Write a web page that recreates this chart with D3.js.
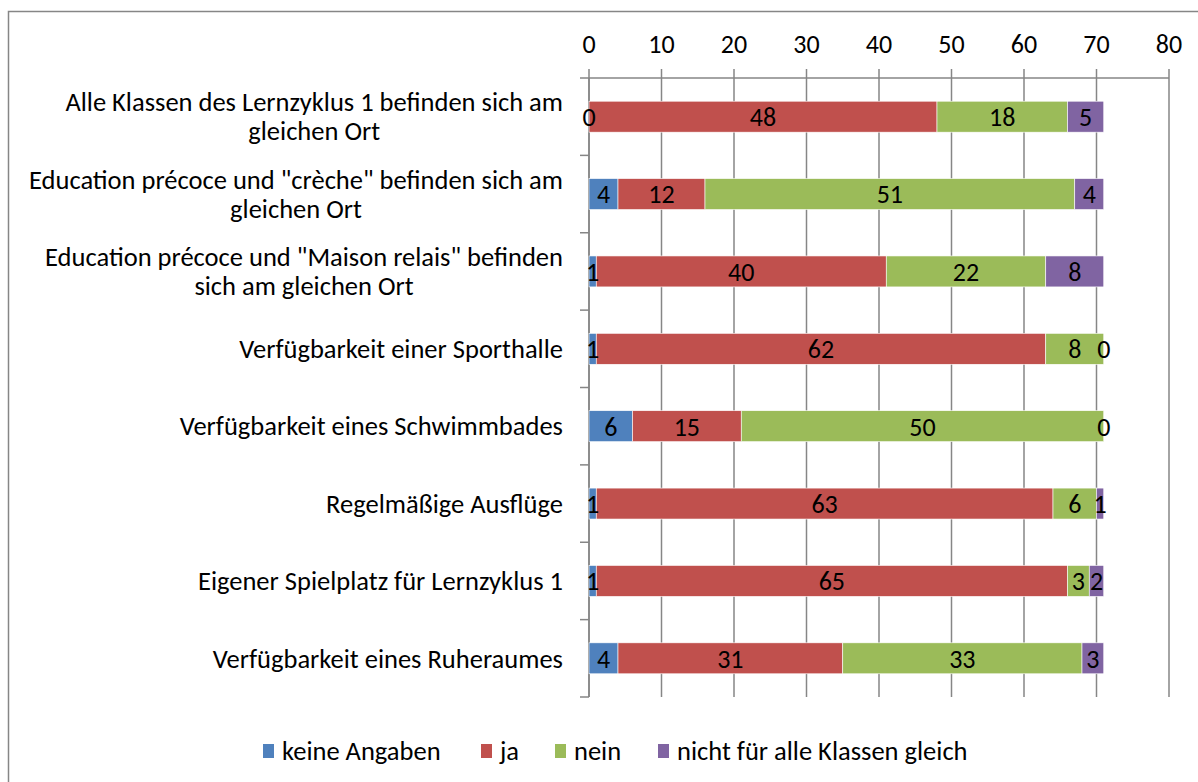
<!DOCTYPE html>
<html><head><meta charset="utf-8">
<script src="https://cdn.jsdelivr.net/npm/d3@7"></script>
<style>
html,body{margin:0;padding:0;background:#fff;}
svg{display:block;font-family:Carlito,Calibri,Lato,"Open Sans",sans-serif;}
</style></head>
<body><svg id="chart" width="1198" height="782"></svg>
<script>
const categories = [
  ["Alle Klassen des Lernzyklus 1 befinden sich am", "gleichen Ort"],
  ["Education précoce und \"crèche\" befinden sich am", "gleichen Ort"],
  ["Education précoce und \"Maison relais\" befinden", "sich am gleichen Ort"],
  ["Verfügbarkeit einer Sporthalle"],
  ["Verfügbarkeit eines Schwimmbades"],
  ["Regelmäßige Ausflüge"],
  ["Eigener Spielplatz für Lernzyklus 1"],
  ["Verfügbarkeit eines Ruheraumes"]
];
const seriesNames = ["keine Angaben", "ja", "nein", "nicht für alle Klassen gleich"];
const keineAngaben = [0, 4, 1, 1, 6, 1, 1, 4];
const ja = [48, 12, 40, 62, 15, 63, 65, 31];
const nein = [18, 51, 22, 8, 50, 6, 3, 33];
const nichtGleich = [5, 4, 8, 0, 0, 1, 2, 3];
const colors = ["#4F81BD", "#C0504D", "#9BBB59", "#8064A2"];
const xTicks = [0, 10, 20, 30, 40, 50, 60, 70, 80];

(function(){
const svg = d3.select("#chart");
const W = 1198, H = 782;
const pL = 589, pR = 1169, pT = 78, pB = 697;

// fit font size so a reference label spans its measured width
const probe = svg.append("text").attr("font-size", 100).text("Verfügbarkeit einer Sporthalle");
const fs = Math.max(18, Math.min(28, 100 * 324 / probe.node().getComputedTextLength()));
probe.remove();
const fsTick = Math.min(fs, 26);

// outer border
svg.append("path").attr("d", `M8.5,${H+2} L8.5,11.5 L${W+2},11.5`)
  .attr("fill","none").attr("stroke","#868686").attr("stroke-width",1.5);

const x = d3.scaleLinear().domain([0, 80]).range([pL, pR]);
const y = d3.scaleBand().domain(d3.range(categories.length)).range([pT, pB]).paddingInner(0.6).paddingOuter(0.3);
const band = d3.scaleBand().domain(d3.range(categories.length)).range([pT, pB]);

// gridlines
svg.append("g").selectAll("line").data(xTicks).join("line")
  .attr("x1", d => x(d)).attr("x2", d => x(d))
  .attr("y1", pT - 9).attr("y2", pB)
  .attr("stroke", "#868686").attr("stroke-width", 1.5);

// top axis line
svg.append("line").attr("x1", pL - 9).attr("x2", pR).attr("y1", pT).attr("y2", pT)
  .attr("stroke", "#868686").attr("stroke-width", 1.5);
// left axis line + ticks at category boundaries
svg.append("line").attr("x1", pL).attr("x2", pL).attr("y1", pT).attr("y2", pB)
  .attr("stroke", "#868686").attr("stroke-width", 1.5);
svg.append("g").selectAll("line").data(d3.range(1, categories.length + 1)).join("line")
  .attr("x1", pL - 9).attr("x2", pL)
  .attr("y1", d => pT + d * band.step()).attr("y2", d => pT + d * band.step())
  .attr("stroke", "#868686").attr("stroke-width", 1.5);

// tick labels
svg.append("g").selectAll("text").data(xTicks).join("text")
  .attr("x", d => x(d)).attr("y", 44).attr("dy", "0.35em")
  .attr("text-anchor", "middle").attr("font-size", fsTick).attr("fill", "#000")
  .text(d => d);

// stacked data
const rows = categories.map((c, i) => ({i, vals: [keineAngaben[i], ja[i], nein[i], nichtGleich[i]]}));
const segs = [];
rows.forEach(r => {
  let acc = 0;
  r.vals.forEach((v, k) => { segs.push({i: r.i, k, v, x0: acc, x1: acc + v}); acc += v; });
});

svg.append("g").selectAll("rect").data(segs.filter(s => s.v > 0)).join("rect")
  .attr("x", d => x(d.x0)).attr("width", d => x(d.x1) - x(d.x0))
  .attr("y", d => y(d.i)).attr("height", y.bandwidth())
  .attr("fill", d => colors[d.k]).attr("stroke", "#fff").attr("stroke-width", 0.6);

// value labels
svg.append("g").selectAll("text").data(segs).join("text")
  .attr("x", d => x((d.x0 + d.x1) / 2))
  .attr("y", d => y(d.i) + y.bandwidth() / 2).attr("dy", "0.36em")
  .attr("text-anchor", "middle").attr("font-size", fsTick).attr("fill", "#000")
  .text(d => d.v);

// category labels
const lab = svg.append("g");
categories.forEach((lines, i) => {
  const cy = y(i) + y.bandwidth() / 2;
  const lh = 29;
  const g = lab.append("g");
  const texts = lines.map((ln, j) => g.append("text")
    .attr("y", cy + (j - (lines.length - 1) / 2) * lh).attr("dy", "0.35em")
    .attr("font-size", fs).attr("fill", "#000").text(ln));
  const widths = texts.map(t => t.node().getComputedTextLength());
  const maxW = d3.max(widths);
  const rightEdge = 563;
  const cx = rightEdge - maxW / 2;
  texts.forEach(t => t.attr("x", cx).attr("text-anchor", "middle"));
});

// legend
const legItems = [
  {name: seriesNames[0], c: colors[0], sx: 263},
  {name: seriesNames[1], c: colors[1], sx: 481},
  {name: seriesNames[2], c: colors[2], sx: 555},
  {name: seriesNames[3], c: colors[3], sx: 658}
];
const leg = svg.append("g");
legItems.forEach(it => {
  leg.append("rect").attr("x", it.sx).attr("y", 744).attr("width", 11).attr("height", 14).attr("fill", it.c);
  leg.append("text").attr("x", it.sx + 19).attr("y", 751).attr("dy", "0.35em")
    .attr("font-size", fs).attr("fill", "#000").text(it.name);
});
})();
</script></body></html>
